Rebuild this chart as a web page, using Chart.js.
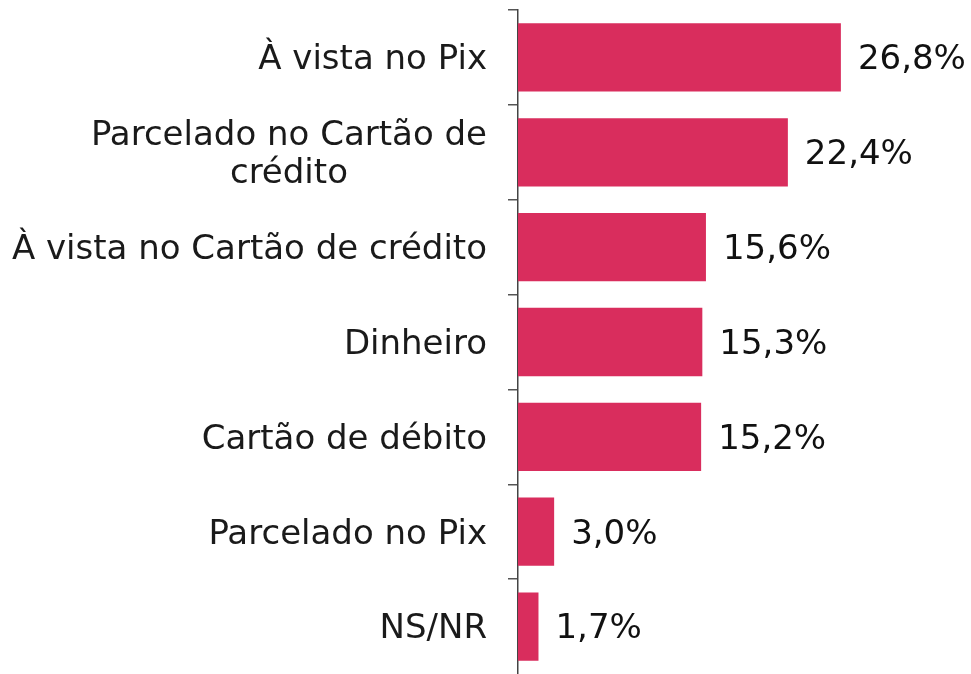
<!DOCTYPE html>
<html>
<head>
<meta charset="utf-8">
<script src="https://cdn.jsdelivr.net/npm/chart.js@4.4.0/dist/chart.umd.min.js"></script>
<style>
    html, body { margin: 0; padding: 0; background: #fff; }
    #wrap { width: 971px; height: 674px; position: relative; }
</style>
</head>
<body>
<div id="wrap"><canvas id="payChart"></canvas></div>
<script>
// Chart data
const categories = [
    ['À vista no Pix'],
    ['Parcelado no Cartão de', 'crédito'],
    ['À vista no Cartão de crédito'],
    ['Dinheiro'],
    ['Cartão de débito'],
    ['Parcelado no Pix'],
    ['NS/NR']
];
const shares = [26.8, 22.4, 15.6, 15.3, 15.2, 3.0, 1.7];
const shareLabels = ['26,8%', '22,4%', '15,6%', '15,3%', '15,2%', '3,0%', '1,7%'];

const FONT = '34px "DejaVu Sans"';
const TEXT_COLOR = '#1a1a1a';
const TEXT_SHIFT = 3; // nudge text down a little to sit on the bar centre

// Category labels, each block right-aligned, lines centered inside the block
const categoryLabels = {
    id: 'categoryLabels',
    afterDraw(chart) {
        const ctx = chart.ctx;
        const scale = chart.scales.y;
        const right = scale.right - 31;
        const lineHeight = 38;
        ctx.save();
        ctx.font = FONT;
        ctx.fillStyle = TEXT_COLOR;
        ctx.textAlign = 'center';
        ctx.textBaseline = 'middle';
        categories.forEach((lines, i) => {
            const y = scale.getPixelForTick(i) + TEXT_SHIFT;
            const blockWidth = Math.max(...lines.map(l => ctx.measureText(l).width));
            const cx = right - blockWidth / 2;
            const top = y - (lines.length - 1) * lineHeight / 2;
            lines.forEach((line, j) => {
                ctx.fillText(line, cx, top + j * lineHeight);
            });
        });
        ctx.restore();
    }
};

// Value labels at the end of each bar
const valueLabels = {
    id: 'valueLabels',
    afterDatasetsDraw(chart) {
        const ctx = chart.ctx;
        const meta = chart.getDatasetMeta(0);
        ctx.save();
        ctx.font = FONT;
        ctx.fillStyle = '#111';
        ctx.textAlign = 'left';
        ctx.textBaseline = 'middle';
        meta.data.forEach((bar, i) => {
            ctx.fillText(shareLabels[i], bar.x + 17, bar.y + TEXT_SHIFT);
        });
        ctx.restore();
    }
};

const ctx = document.getElementById('payChart').getContext('2d');
new Chart(ctx, {
    type: 'bar',
    data: {
        labels: categories,
        datasets: [{
            data: shares,
            backgroundColor: '#D92D5D',
            barPercentage: 0.72,
            categoryPercentage: 1
        }]
    },
    options: {
        indexAxis: 'y',
        responsive: true,
        maintainAspectRatio: false,
        animation: false,
        layout: {
            padding: { top: 10, right: 0, bottom: 0, left: 0 }
        },
        plugins: {
            legend: { display: false },
            tooltip: { enabled: false }
        },
        scales: {
            x: {
                display: false,
                min: 0,
                max: 37.6
            },
            y: {
                offset: true,
                border: {
                    display: true,
                    color: '#444',
                    width: 1.5
                },
                grid: {
                    offset: true,
                    drawOnChartArea: false,
                    drawTicks: true,
                    tickLength: 10,
                    lineWidth: 1.5,
                    // the closing tick at the very bottom is cut off in the original
                    color: (c) => c.tick ? '#555' : 'transparent'
                },
                ticks: { display: false },
                afterFit: function (scale) {
                    scale.width = 518;
                }
            }
        }
    },
    plugins: [categoryLabels, valueLabels]
});
</script>
</body>
</html>
